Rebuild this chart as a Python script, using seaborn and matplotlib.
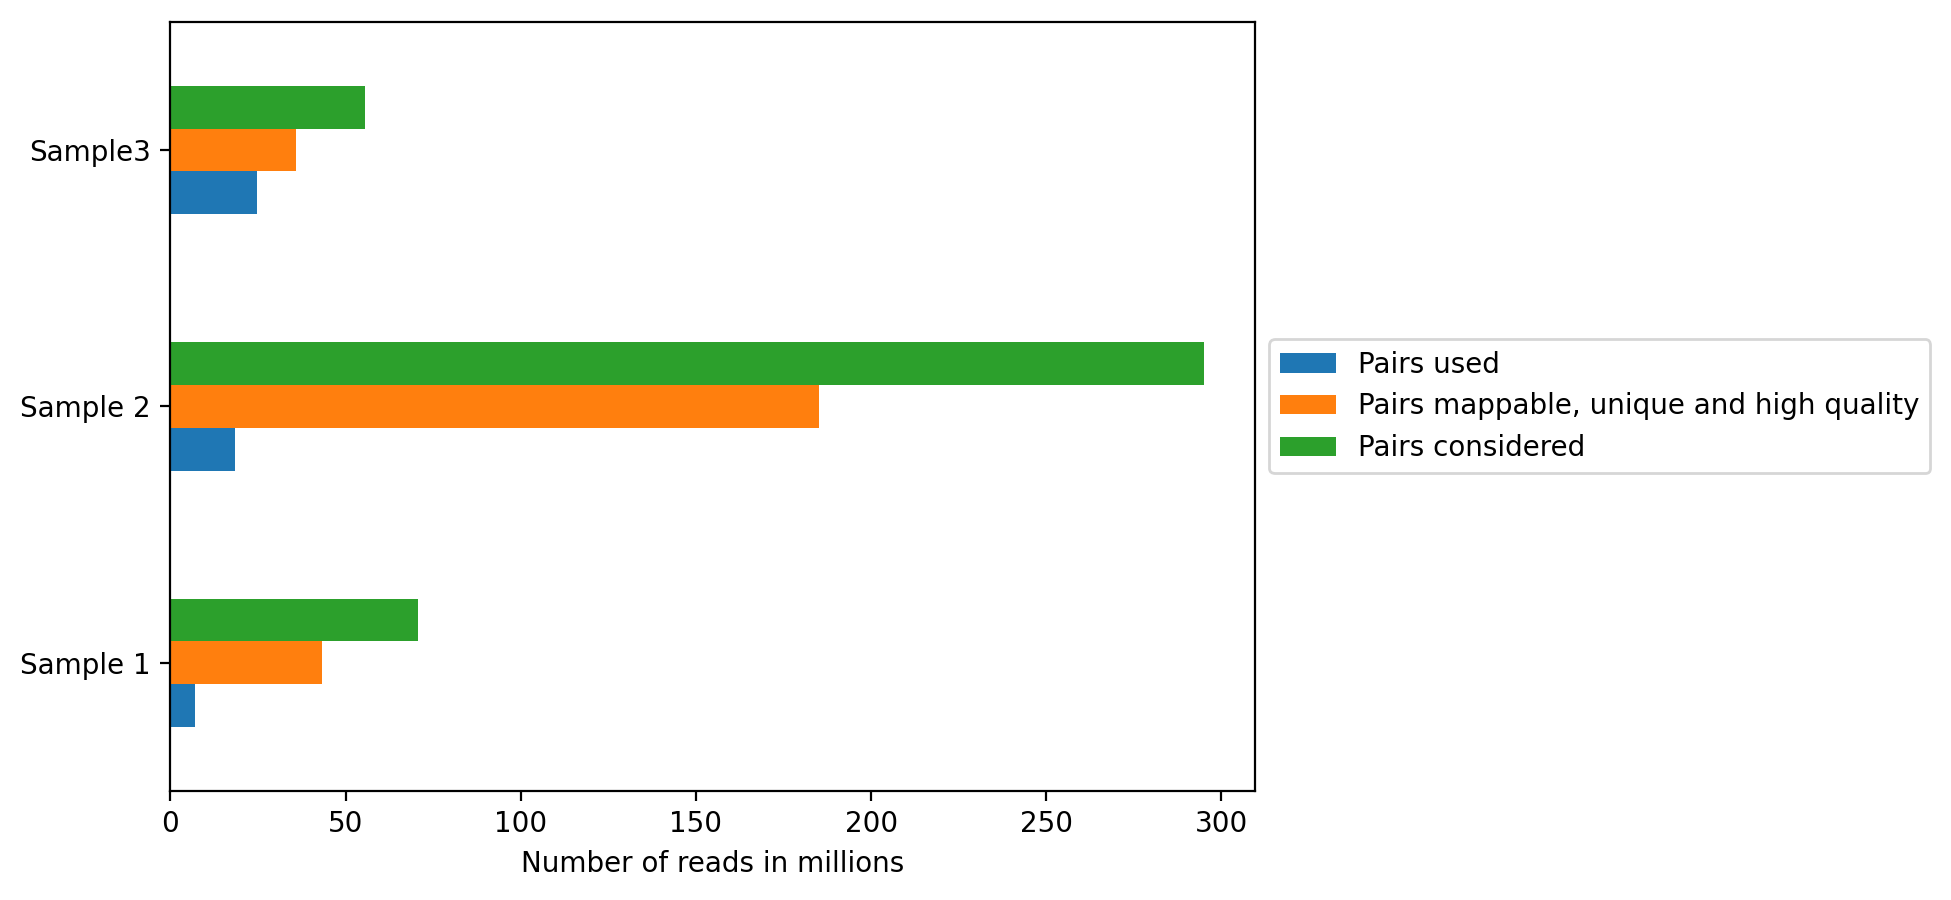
import pandas as pd
import seaborn as sns
import matplotlib.pyplot as plt

samples = ['Sample 1', 'Sample 2', 'Sample3']
series = ['Pairs used', 'Pairs mappable, unique and high quality', 'Pairs considered']
pairs_used = [7.0, 18.5, 24.7]
pairs_mappable = [43.3, 185.1, 35.9]
pairs_considered = [70.7, 294.9, 55.6]

df = pd.DataFrame({'sample': samples * 3,
                   'kind': [series[0]] * 3 + [series[1]] * 3 + [series[2]] * 3,
                   'reads': pairs_used + pairs_mappable + pairs_considered})

plt.rcParams['font.family'] = ['DejaVu Sans']
colors = ['#1f77b4', '#ff7f0e', '#2ca02c']

fig = plt.figure(figsize=(9.755, 4.5), dpi=200)
ax = fig.add_axes([0.0873, 0.1211, 0.556, 0.8545])
sns.barplot(data=df, y='sample', x='reads', hue='kind', order=samples, hue_order=series,
            palette=colors, saturation=1, width=0.5, orient='h', linewidth=0, ax=ax)
ax.invert_yaxis()
ax.set_ylabel('')
ax.set_xlabel('Number of reads in millions')
ax.set_xlim(0, 309.6)
ax.set_xticks([0, 50, 100, 150, 200, 250, 300])
ax.legend(loc='center left', bbox_to_anchor=(1, 0.5), title=None)
fig.savefig('out.png', dpi=200)
